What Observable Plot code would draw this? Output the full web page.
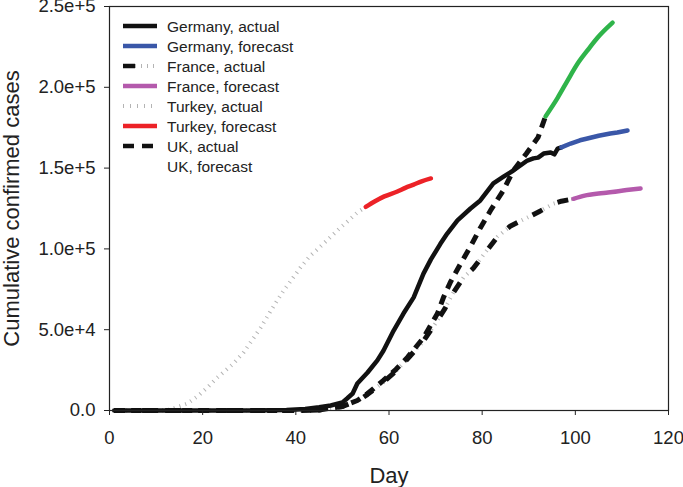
<!DOCTYPE html>
<html><head><meta charset="utf-8">
<script src="https://cdn.jsdelivr.net/npm/d3@7"></script>
<script src="https://cdn.jsdelivr.net/npm/@observablehq/plot@0.6"></script>
<style>
body{margin:0;background:#fff;}
#wrap{position:relative;width:683px;height:487px;font-family:"Liberation Sans",Arial,sans-serif;}
#legend{position:absolute;left:0;top:0;pointer-events:none;}
</style></head><body><div id="wrap"></div>
<script>
// ---- data ----
const germanyActualDay = [1,10,20,30,38,42,45,47.5,50,51,52.2,53.2,55.4,57.5,58.8,61,63.1,65.3,67.4,69,71,72.5,74.7,77.5,79.6,82.4,84.5,86.7,89.7,91,92,93.2,94.7,95.5,96.2,97];
const germanyActualVal = [0,0,0,0,300,900,2000,3100,5000,7400,10500,16700,23500,31000,37000,49500,60000,70000,84700,93500,103000,109500,117600,125000,130000,140500,144500,148500,154700,156000,156500,159000,159700,158500,162000,162800];
const germanyForecastDay = [97,99,101,102.6,105,107.5,109,111.2];
const germanyForecastVal = [162800,165200,167200,168300,170000,171400,172000,173300];

const franceActualDay = [1,20,40,45,50,53.9,55.4,58.8,61.5,64,67.4,70,72,73.6,76,78.1,81,83.3,86,89.7,92.5,95.3,97,99.6];
const franceActualVal = [0,0,0,300,2500,7000,10000,17500,24500,32000,43000,54000,63000,72000,82300,88000,99000,107500,114000,119400,123500,128000,129500,131000];
const franceForecastDay = [99.6,102,105,107,111,114];
const franceForecastVal = [131000,133000,134300,134900,136400,137400];

const turkeyActualDay = [1,10,13,16.7,19,21,23,26.6,28.8,30,32.4,35,37.4,39,41,43,45.3,47.5,49.6,51.5,53.2,55];
const turkeyActualVal = [0,0,500,4300,9000,14200,20000,29000,36000,41000,51000,63500,74300,80500,88500,95500,101500,107500,113200,118000,122500,126000];
const turkeyForecastDay = [55,57,59,61.8,63.5,65.3,67,69];
const turkeyForecastVal = [126000,129500,132500,135500,137800,139800,141800,143600];

const ukActualDay = [1,20,40,45,50,53.2,55.4,58.8,61.5,64,67.4,70.4,71.7,73.2,75.4,77.5,79.6,81.8,84.5,86.7,89.5,92,93.6];
const ukActualVal = [0,0,0,300,2500,6200,10500,18600,25500,33000,45000,60000,70000,79500,91000,101500,113000,123800,136000,148500,159000,169000,182000];
const ukForecastDay = [93.6,96.2,98.3,100.5,102.6,104.8,108];
const ukForecastVal = [182000,193500,204000,214700,222800,230800,240000];

const xTicks = [0,20,40,60,80,100,120];
const xTickLabels = ["0","20","40","60","80","100","120"];
const yTicks = [0,50000,100000,150000,200000,250000];
const yTickLabels = ["0.0","5.0e+4","1.0e+5","1.5e+5","2.0e+5","2.5e+5"];

const legendLabels = ["Germany, actual","Germany, forecast","France, actual","France, forecast","Turkey, actual","Turkey, forecast","UK, actual","UK, forecast"];

const xTitle = "Day";
const yTitle = "Cumulative confirmed cases";

const zip = (d, v) => d.map((day, i) => ({day, value: v[i]}));

const FONT = '"Liberation Sans",Arial,sans-serif';
const GRAY = "#b4b4b4";
const BLUE = "#3a57a8", MAGENTA = "#b45aac", RED = "#ec2227", GREEN = "#2fb44a";

const chart = Plot.plot({
  width: 683,
  height: 487,
  marginLeft: 109,
  marginRight: 15,
  marginTop: 6,
  marginBottom: 77,
  style: {fontFamily: FONT, background: "#fff", color: "#222", overflow: "visible"},
  x: {domain: [0, 120]},
  y: {domain: [0, 250000]},
  marks: [
    Plot.line(zip(turkeyActualDay, turkeyActualVal), {x: "day", y: "value", stroke: GRAY, strokeWidth: 4, strokeDasharray: "1,5", strokeLinecap: "butt"}),
    Plot.line(zip(turkeyForecastDay, turkeyForecastVal), {x: "day", y: "value", stroke: RED, strokeWidth: 4.5, curve: "monotone-x"}),
    Plot.line(zip(franceActualDay, franceActualVal), {x: "day", y: "value", stroke: GRAY, strokeWidth: 4, strokeDasharray: "1,5", strokeLinecap: "butt"}),
    Plot.line(zip(franceActualDay, franceActualVal), {x: "day", y: "value", stroke: "#111", strokeWidth: 5, strokeDasharray: "11,17", strokeLinecap: "butt"}),
    Plot.line(zip(franceForecastDay, franceForecastVal), {x: "day", y: "value", stroke: MAGENTA, strokeWidth: 4.5, curve: "monotone-x"}),
    Plot.line(zip(ukActualDay, ukActualVal), {x: "day", y: "value", stroke: "#111", strokeWidth: 5, strokeDasharray: "10,7", strokeLinecap: "butt"}),
    Plot.line(zip(ukForecastDay, ukForecastVal), {x: "day", y: "value", stroke: GREEN, strokeWidth: 4.5, curve: "monotone-x"}),
    Plot.line(zip(germanyActualDay, germanyActualVal), {x: "day", y: "value", stroke: "#111", strokeWidth: 4.5, strokeLinejoin: "round"}),
    Plot.line(zip(germanyForecastDay, germanyForecastVal), {x: "day", y: "value", stroke: BLUE, strokeWidth: 4.5}),
    Plot.frame({stroke: "#222", strokeWidth: 1.2}),
    Plot.axisX({ticks: xTicks, tickFormat: d => xTickLabels[xTicks.indexOf(d)], tickSize: 5, tickPadding: 15, fontSize: 18.5, label: null, stroke: "#222"}),
    Plot.axisY({ticks: yTicks, tickFormat: d => yTickLabels[yTicks.indexOf(d)], tickSize: 5, tickPadding: 9, fontSize: 18.5, label: null, stroke: "#222"}),
    Plot.text([xTitle], {frameAnchor: "bottom", dy: 65, lineAnchor: "middle", textAnchor: "middle", text: d => d, fontSize: 22, fill: "#222"}),
    Plot.text([yTitle], {frameAnchor: "left", dx: -98, rotate: -90, lineAnchor: "middle", textAnchor: "middle", text: d => d, fontSize: 22, fill: "#222"})
  ]
});

const wrap = document.getElementById("wrap");
wrap.appendChild(chart);

// legend overlay (inside plot area, top-left)
const legendStyles = [
  [{stroke: "#111", dash: null}],
  [{stroke: BLUE, dash: null}],
  [{stroke: GRAY, dash: "1,5", w: 4}, {stroke: "#111", dash: "12,40"}],
  [{stroke: MAGENTA, dash: null}],
  [{stroke: GRAY, dash: "1,6", w: 4}],
  [{stroke: RED, dash: null}],
  [{stroke: "#111", dash: "11,8"}],
  []
];
const lg = d3.select(wrap).append("svg").attr("id", "legend").attr("width", 683).attr("height", 487);
legendLabels.forEach((lab, i) => {
  const y = 26 + i * 20;
  legendStyles[i].forEach(s => {
    lg.append("line").attr("x1", 123).attr("x2", 157).attr("y1", y).attr("y2", y)
      .attr("stroke", s.stroke).attr("stroke-width", s.w || 4.5)
      .attr("stroke-dasharray", s.dash);
  });
  lg.append("text").attr("x", 167).attr("y", y).attr("dy", "0.36em")
    .attr("font-family", FONT).attr("font-size", 15.5).attr("fill", "#222").text(lab);
});
</script></body></html>
